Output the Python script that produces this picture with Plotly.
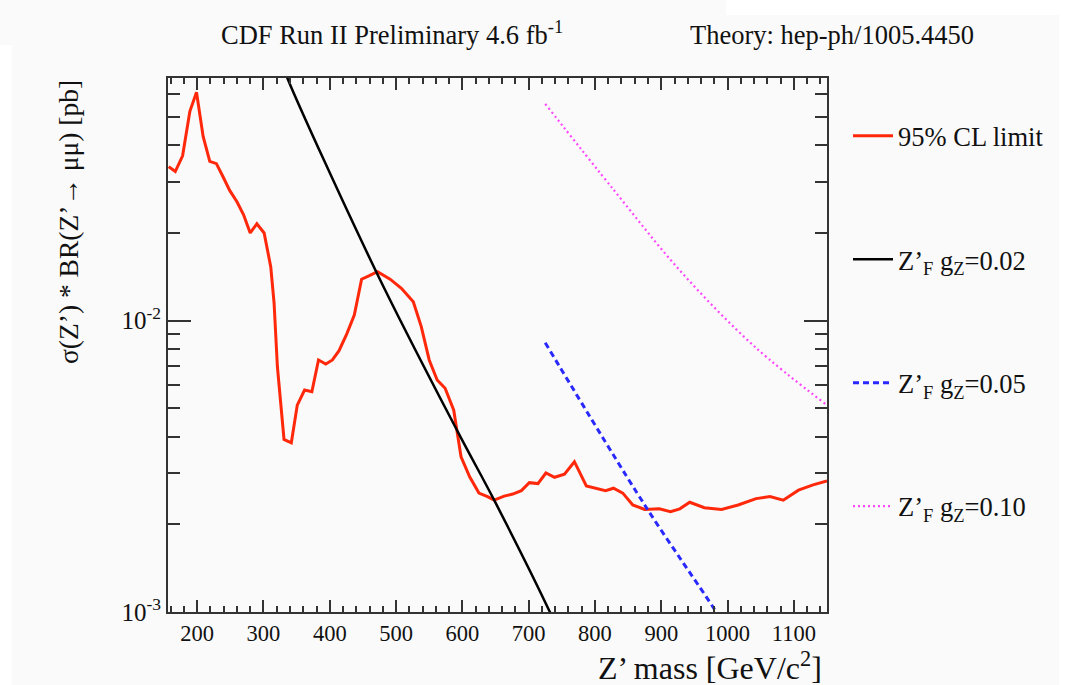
import plotly.graph_objects as go

# 95% CL observed limit
mass = [157, 167, 178, 189, 199, 209, 219, 229, 239, 249, 260, 270, 280, 290, 301, 311, 316, 321,
        331, 342, 351, 362, 373, 383, 394, 404, 414, 426, 437, 448, 459, 472, 491, 508, 526, 538,
        550, 562, 574, 587, 598, 611, 625, 638, 648, 663, 676, 689, 701, 714, 726, 739, 754, 769,
        787, 802, 816, 828, 842, 857, 875, 897, 914, 928, 943, 965, 991, 1016, 1043, 1064, 1084,
        1107, 1129, 1150]
limit = [0.0338, 0.0325, 0.0368, 0.0523, 0.0608, 0.0429, 0.0352, 0.0346, 0.0312, 0.0280, 0.0256,
         0.0231, 0.0200, 0.0215, 0.0200, 0.0153, 0.0115, 0.00695, 0.00391, 0.00381, 0.00513,
         0.00578, 0.00570, 0.00733, 0.00710, 0.00733, 0.00789, 0.00905, 0.01046, 0.01388, 0.01424,
         0.01473, 0.01388, 0.01292, 0.01162, 0.00954, 0.00733, 0.00626, 0.00586, 0.00493, 0.00341,
         0.00291, 0.00256, 0.00249, 0.00242, 0.00250, 0.00254, 0.00261, 0.00278, 0.00276, 0.00300,
         0.00290, 0.00297, 0.00328, 0.00271, 0.00266, 0.00261, 0.00266, 0.00256, 0.00233, 0.00225,
         0.00226, 0.00221, 0.00226, 0.00238, 0.00228, 0.00225, 0.00233, 0.00245, 0.00249, 0.00242,
         0.00262, 0.00273, 0.00282]

# Theory curves
th002_mass = [330, 336, 470, 593, 648, 732, 740]
th002_xsec = [0.0745, 0.0681, 0.01473, 0.00416, 0.00242, 0.00100, 0.00091]
th005_mass = [725, 875, 978, 986]
th005_xsec = [0.0084, 0.00233, 0.00104, 0.00097]
th010_mass = [725, 830, 930, 1041, 1150]
th010_xsec = [0.0555, 0.0278, 0.0147, 0.00814, 0.00513]

x_range = [156, 1150]
y_range_log = [-3, -1.167]
y_major = [0.001, 0.01]
y_major_text = ["10<sup>-3</sup>", "10<sup>-2</sup>"]
y_minor = [0.002, 0.003, 0.004, 0.005, 0.006, 0.007, 0.008, 0.009, 0.02, 0.03, 0.04, 0.05, 0.06]

FONT = "Liberation Serif, Times New Roman, serif"
L, R, T, B = 168, 827, 78, 612
W, H = 1072, 685

def px(x):
    return (x - L) / (R - L)

def py(y):
    return (B - y) / (B - T)

fig = go.Figure()
fig.add_trace(go.Scatter(x=mass, y=limit, mode="lines", name="95% CL limit",
                         line=dict(color="rgb(255,40,10)", width=3), legendgroup="a"))
fig.add_trace(go.Scatter(x=th002_mass, y=th002_xsec, mode="lines",
                         name="Z’<sub>F</sub> g<sub>Z</sub>=0.02",
                         line=dict(color="black", width=2.5, shape="spline"), legendgroup="b"))
fig.add_trace(go.Scatter(x=th005_mass, y=th005_xsec, mode="lines",
                         name="Z’<sub>F</sub> g<sub>Z</sub>=0.05",
                         line=dict(color="rgb(40,40,255)", width=3, dash="6px,4px", shape="spline"),
                         legendgroup="c"))
fig.add_trace(go.Scatter(x=th010_mass, y=th010_xsec, mode="lines",
                         name="Z’<sub>F</sub> g<sub>Z</sub>=0.10",
                         line=dict(color="rgb(255,70,255)", width=2.2, dash="2px,3px", shape="spline"),
                         legendgroup="d"))

axis_common = dict(showline=True, linecolor="#333", linewidth=2, mirror="ticks",
                   ticks="inside", tickcolor="#333", tickwidth=2, showgrid=False, zeroline=False)

fig.update_xaxes(range=x_range, dtick=100, tick0=0, ticklen=12,
                 tickfont=dict(family=FONT, size=22.5, color="#111"),
                 minor=dict(ticks="inside", dtick=20, tick0=0, ticklen=6, tickcolor="#333",
                            tickwidth=1.5, showgrid=False),
                 **axis_common)
fig.update_yaxes(type="log", range=y_range_log, tickvals=y_major, ticktext=y_major_text,
                 ticklen=23, tickfont=dict(family=FONT, size=25, color="#111"),
                 minor=dict(ticks="inside", tickvals=y_minor, ticklen=12, tickcolor="#333",
                            tickwidth=1.5, showgrid=False),
                 **axis_common)

annotations = [
    dict(text="CDF Run II Preliminary 4.6 fb<sup>-1</sup>", x=px(392), y=py(33),
         xanchor="center", yanchor="middle", font=dict(size=26.5)),
    dict(text="Theory: hep-ph/1005.4450", x=px(832), y=py(35),
         xanchor="center", yanchor="middle", font=dict(size=26.5)),
    dict(text="Z’ mass [GeV/c<sup>2</sup>]", x=px(824), y=py(666),
         xanchor="right", yanchor="middle", font=dict(size=32)),
    dict(text="σ(Z’) * BR(Z’→ μμ) [pb]", x=px(68), y=py(222), textangle=-90,
         xanchor="center", yanchor="middle", font=dict(size=27.5)),
]
for a in annotations:
    a.update(xref="paper", yref="paper", showarrow=False)
    a["font"].update(family=FONT, color="#111")

shapes = [
    dict(type="rect", x0=px(0), x1=px(12), y0=py(45), y1=py(685)),
    dict(type="rect", x0=px(1059), x1=px(1072), y0=py(0), y1=py(685)),
    dict(type="rect", x0=px(726), x1=px(1072), y0=py(0), y1=py(15)),
]
for s in shapes:
    s.update(xref="paper", yref="paper", fillcolor="white", line=dict(width=0), layer="below")

fig.update_layout(
    width=W, height=H,
    margin=dict(l=L, r=W - R, t=T, b=H - B),
    paper_bgcolor="#fafafa", plot_bgcolor="#fafafa",
    font=dict(family=FONT, color="#111"),
    annotations=annotations, shapes=shapes,
    legend=dict(x=px(848), y=py(112), xanchor="left", yanchor="top",
                bgcolor="rgba(0,0,0,0)", tracegroupgap=86, itemwidth=40,
                font=dict(family=FONT, size=26.5, color="#111")),
    showlegend=True,
)

fig.write_html("out.html")
